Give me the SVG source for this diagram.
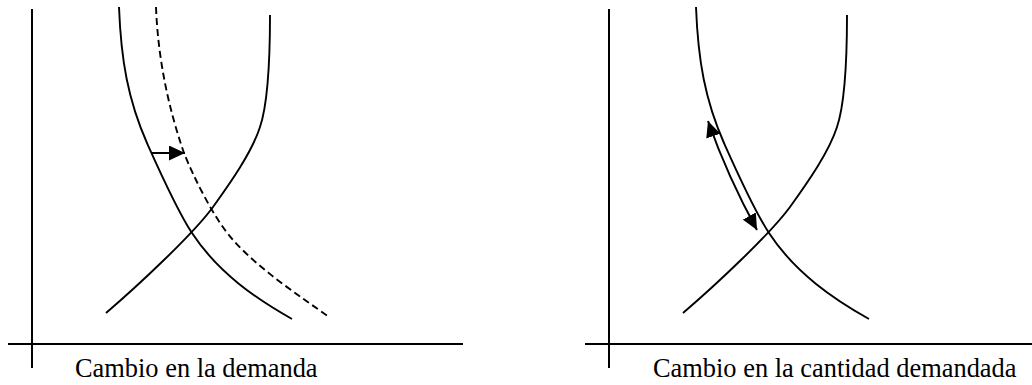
<svg xmlns="http://www.w3.org/2000/svg" width="1032" height="385" viewBox="0 0 1032 385">
<style>
.ax{stroke:#000;stroke-width:2;fill:none}
.cv{stroke:#000;stroke-width:1.9;fill:none}
.dash{stroke:#000;stroke-width:1.9;fill:none;stroke-dasharray:7 4}
.arr{stroke:#000;stroke-width:2;fill:none}
.lbl{font-family:"Liberation Serif","Times New Roman",serif;font-size:26.4px;fill:#000}
</style>
<defs>
<marker id="ah" markerUnits="userSpaceOnUse" viewBox="0 0 16 15" markerWidth="16" markerHeight="15" refX="16" refY="7.5" orient="auto-start-reverse">
<path d="M0,0 L16,7.5 L0,15 z" fill="#000"/>
</marker>
<path id="dem" d="M119,7 C121,60 128,100 147,143 C153.7,158 176.6,209.6 192,233 C218.4,273.2 256.9,299.2 292,319"/>
<path id="sup" d="M106,313 C138.4,285.4 193.8,233.4 213,207 C231,182 252,152 260,127 C268.1,103 270,60 270,15"/>
</defs>
<g id="panel-left">
<g id="axes-left">
<line class="ax" x1="32" y1="9" x2="32" y2="368"/>
<line class="ax" x1="8" y1="344" x2="463" y2="344"/>
</g>
<g id="demand-left"><use href="#dem" class="cv"/></g>
<g id="demand-shifted-left"><path class="dash" d="M156,7 C158,60 169,110 184,153 C192.5,174.5 213.2,217.8 233,240 C259.4,269.6 301,297 329,317"/></g>
<g id="supply-left"><use href="#sup" class="cv"/></g>
<text id="label-left" class="lbl" x="75" y="377">Cambio en la demanda</text>
</g>
<g id="panel-right">
<g id="axes-right">
<line class="ax" x1="609" y1="9" x2="609" y2="368"/>
<line class="ax" x1="585" y1="344" x2="1032" y2="344"/>
</g>
<g id="demand-right"><use href="#dem" class="cv" transform="translate(577,0)"/></g>
<g id="supply-right"><use href="#sup" class="cv" transform="translate(577,0)"/></g>
<text id="label-right" class="lbl" x="653" y="377">Cambio en la cantidad demandada</text>
</g>
<g id="connectors">
<line class="arr" x1="152" y1="153" x2="185" y2="153" marker-end="url(#ah)"/>
<path class="arr" d="M708,121 C719,152 735,190 757,230" marker-start="url(#ah)" marker-end="url(#ah)"/>
</g>
</svg>
